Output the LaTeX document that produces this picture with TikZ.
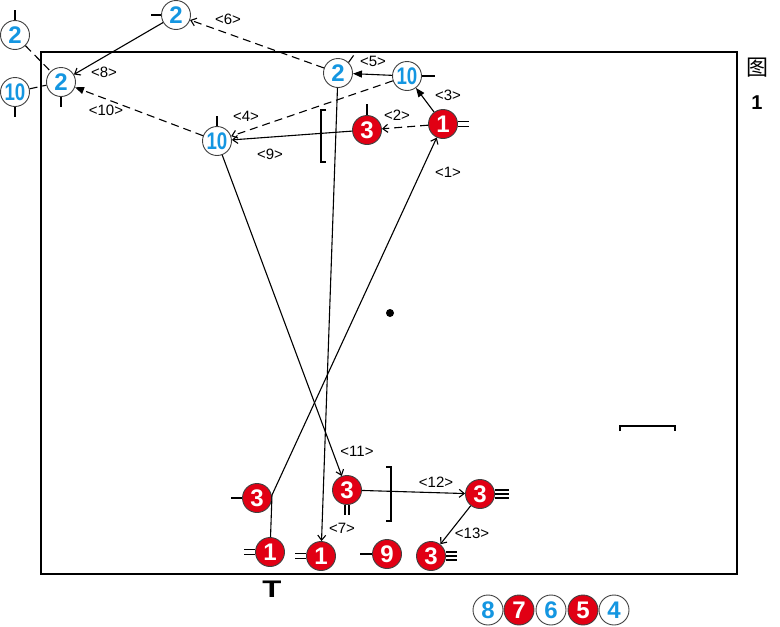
\documentclass[tikz,border=0pt]{standalone}
\usepackage{fontspec}
\setmainfont{Liberation Sans}
\newfontfamily\cjkfont{Noto Sans CJK SC}
\usetikzlibrary{arrows.meta}
\definecolor{bluec}{RGB}{20,150,225}
\definecolor{redc}{RGB}{225,0,20}
\begin{document}
\begin{tikzpicture}[x=1pt,y=-1pt,
  pl/.style={circle, draw=black!75, line width=0.9pt, inner sep=0pt, minimum size=29pt,
     font=\fontsize{24}{24}\selectfont\bfseries},
  bp/.style={pl, fill=white, text=bluec},
  rp/.style={pl, fill=redc, text=white},
  lab/.style={font=\fontsize{15}{15}\selectfont, inner sep=1pt},
  conn/.style={line width=1.1pt},
  tk/.style={line width=1.1pt},
  oa/.style={-{Straight Barb[length=5pt,width=8pt]}},
  fa/.style={-{Triangle[length=9pt,width=7pt]}},
  dsh/.style={dash pattern=on 8pt off 5pt},
  brk/.style={line width=1.6pt}]
\useasboundingbox (0,0) rectangle (780,627);
\newcommand{\ten}{\scalebox{0.78}[1]{10}}
% frame
\draw[line width=2.4pt] (41,52) rectangle (737,574);
% players
\node[bp] (A) at (176,15) {2};
\node[bp] (B) at (15,35) {2};
\node[bp] (C) at (61,82) {2};
\node[bp] (D) at (15,92) {\ten};
\node[bp] (E) at (217,141) {\ten};
\node[bp] (F) at (338,73) {2};
\node[bp] (G) at (407,76) {\ten};
\node[rp] (H) at (443,124) {1};
\node[rp] (I) at (367,130) {3};
\node[rp] (K) at (257,498) {3};
\node[rp] (L) at (270,552) {1};
\node[rp] (J) at (321,556) {1};
\node[rp] (M) at (347,490) {3};
\node[rp] (N) at (480,494) {3};
\node[rp] (P) at (387,554) {9};
\node[rp] (O) at (431,556) {3};
% ticks
\draw[tk] (A.west) -- ++(-10,0);
\draw[tk] (B.north) -- ++(0,-10);
\draw[tk] (D.south) -- ++(0,10);
\draw[tk] (C.south) -- ++(0,10);
\draw[tk] (E.north) -- ++(0,-10);
\draw[tk] (F.45) -- ++(5,-7);
\draw[tk] (G.east) -- ++(13,0);
\draw[tk] ([yshift=2.5pt]H.east) -- ++(11,0);
\draw[tk] ([yshift=-2.5pt]H.east) -- ++(11,0);
\draw[tk] (I.north) -- ++(0,-11);
\draw[tk] (K.west) -- ++(-11,0);
\draw[tk] ([yshift=2.5pt]L.west) -- ++(-11,0);
\draw[tk] ([yshift=-2.5pt]L.west) -- ++(-11,0);
\draw[tk] ([yshift=2.5pt]J.west) -- ++(-11,0);
\draw[tk] ([yshift=-2.5pt]J.west) -- ++(-11,0);
\draw[tk] ([xshift=-2pt]M.south) -- ++(0,10);
\draw[tk] ([xshift=2pt]M.south) -- ++(0,10);
\draw[tk] ([yshift=4pt]N.east) -- ++(14,0);
\draw[tk] (N.east) -- ++(14,0);
\draw[tk] ([yshift=-4pt]N.east) -- ++(14,0);
\draw[tk] ([yshift=4pt]O.east) -- ++(11,0);
\draw[tk] (O.east) -- ++(11,0);
\draw[tk] ([yshift=-4pt]O.east) -- ++(11,0);
\draw[tk] (P.west) -- ++(-12,0);
% connectors
\draw[conn,dsh] (B) -- (C);
\draw[conn,dsh] (D) -- (C);
\draw[conn,oa] (A) -- (C);
\draw[conn,dsh,oa] (F) -- (A);
\draw[conn,dsh,fa] (E) -- (C);
\draw[conn,fa] (G) -- (F);
\draw[conn,fa] (H) -- (G);
\draw[conn,dsh,oa] (H) -- (I);
\draw[conn,dsh,oa] (G) -- (E);
\draw[conn,oa] (I) -- (E);
\draw[conn,oa] (F) -- (J);
\coordinate (Kb) at (272,495);
\draw[conn,oa] (L) -- (Kb) -- (H);
\draw[conn,oa] (E) -- (M);
\draw[conn,oa] (M) -- (N);
\draw[conn,oa] (N) -- (O);
% labels
\node[lab] (l8) at (104,72) {<8>};
\node[lab] (l6) at (228,19) {<6>};
\node[lab] (l10) at (106,110) {<10>};
\node[lab] (l5) at (373,61) {<5>};
\node[lab] (l3) at (448,95) {<3>};
\node[lab] (l2) at (397,115) {<2>};
\node[lab] (l4) at (246,116) {<4>};
\node[lab] (l9) at (270,154) {<9>};
\node[lab] (l1) at (448,172) {<1>};
\node[lab] (l11) at (357,451) {<11>};
\node[lab] (l12) at (436,482) {<12>};
\node[lab] (l7) at (342,528) {<7>};
\node[lab] (l13) at (472,533) {<13>};
% brackets and marks
\draw[brk] (326,110) -- (321,110) -- (321,162) -- (326,162);
\draw[brk] (386,467) -- (391,467) -- (391,521) -- (386,521);
\draw[brk] (620,431) -- (620,426) -- (675,426) -- (675,431);
\fill (390,313) circle (4);
\node[font=\fontsize{24}{24}\selectfont\bfseries, inner sep=0pt] (T) at (272,589) {\scalebox{1.3}[1]{T}};
% figure caption
\node[font=\cjkfont\fontsize{22}{22}\selectfont, inner sep=0pt] (fig) at (757,68) {图};
\node[font=\fontsize{20}{20}\selectfont\bfseries, inner sep=0pt] (fign) at (757,103) {1};
% legend
\node[bp, minimum size=30pt] (g8) at (488,610) {8};
\node[rp, minimum size=30pt] (g7) at (519,610) {7};
\node[bp, minimum size=30pt] (g6) at (551,610) {6};
\node[rp, minimum size=30pt] (g5) at (583,610) {5};
\node[bp, minimum size=30pt] (g4) at (614,610) {4};
\end{tikzpicture}
\end{document}
